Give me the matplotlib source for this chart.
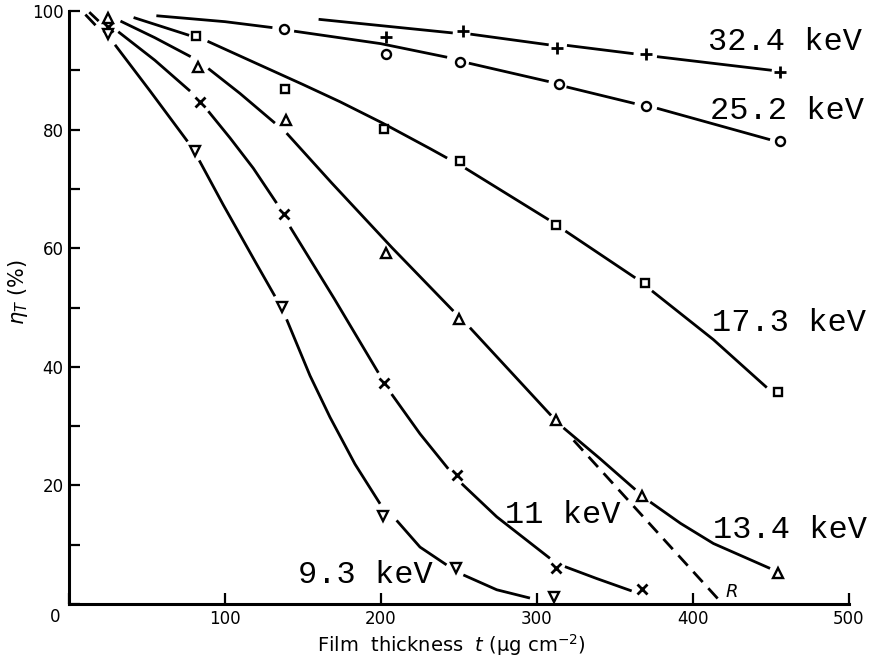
import numpy as np
import matplotlib
matplotlib.use("Agg")
import matplotlib.pyplot as plt

nan = np.nan

# ---- measured points (film thickness t, eta_T %) ----
t_324 = [203.4, 252.7, 313, 370, 456]
y_324 = [95.6, 96.6, 93.7, 92.8, 89.7]
t_252 = [137.9, 203.4, 250.5, 314, 369.6, 456]
y_252 = [96.9, 92.8, 91.4, 87.7, 84.0, 78.0]
t_173 = [81.3, 138.3, 201.9, 250.5, 312, 369, 454.7]
y_173 = [95.8, 86.8, 80.1, 74.7, 63.9, 54.1, 35.8]
t_134 = [25, 83, 138.9, 203.4, 250, 312.4, 367.5, 454.3]
y_134 = [98.8, 90.6, 81.6, 59.2, 48.0, 31.1, 18.2, 5.3]
t_110 = [25, 84, 137.8, 201.7, 248.5, 312, 367]
y_110 = [97.3, 84.7, 65.7, 37.2, 21.8, 6.0, 2.5]
t_93 = [25, 80.7, 136.4, 201, 248.2, 310.6]
y_93 = [96.2, 76.4, 50.1, 14.8, 6.0, 1.2]

# ---- fitted curves (nan = pen lifted) ----
ct_324 = [160, 246, nan, 257.3, 307.5, nan, 319.2, 361.9, nan, 376.9, 450.5]
cy_324 = [98.6, 96.3, nan, 96.1, 94.3, nan, 94.2, 92.8, nan, 92.3, 90.0]
ct_252 = [56, 100, 130.4, nan, 144.3, 199.7, 242.4, nan, 256.3, 307.5, nan,
          318.9, 362.6, nan, 376.9, 449.4]
cy_252 = [99.2, 98.2, 97.2, nan, 96.6, 94.5, 92.2, nan, 91.2, 88.1, nan,
          87.2, 84.4, nan, 83.6, 78.3]
ct_173 = [41.4, 77, nan, 88.8, 118.1, 150, 173.7, 201, 231.4, 242.4, nan,
          254, 307.5, nan, 318.2, 363, nan, 373.7, 413, 447.3]
cy_173 = [98.9, 95.9, nan, 94.9, 91.4, 87.6, 84.7, 81.1, 76.8, 75.2, nan,
          73.5, 64.8, nan, 62.9, 55.0, nan, 52.8, 44.6, 36.5]
ct_134 = [33, 55, 78, nan, 89.3, 109.6, 132, nan, 139.5, 168.4, 207, 246.4, nan,
          257, 309, nan, 317, 340, 363, nan, 372.6, 392, 413.1, 449.4]
cy_134 = [98.3, 95.5, 92.3, nan, 90.3, 86.1, 81.1, nan, 79.4, 71.0, 60.1, 49.4, nan,
          46.6, 31.8, nan, 29.7, 24.6, 19.3, nan, 17.2, 13.6, 10.2, 6.0]
ct_110 = [13, 19, nan, 31.6, 55, 77.6, nan, 89.3, 103.2, 118.1, 133.1, nan,
          141.7, 170, 198.3, nan, 206.8, 225, 243.1, nan, 251.7, 274.2, 308.3, nan,
          317.9, 338.2, 360.7]
cy_110 = [99.8, 98.3, nan, 96.5, 91.7, 86.5, nan, 83.1, 78.6, 73.5, 67.6, nan,
          63.6, 51.5, 39.0, nan, 35.4, 28.7, 22.8, nan, 20.3, 14.7, 7.7, nan,
          6.3, 4.3, 2.2]
ct_93 = [10.5, 17, nan, 29.5, 52, 76, nan, 83.5, 98.9, 109.6, 120.3, 132, nan,
         139.5, 154.5, 167.3, 183.3, 199.4, nan, 210, 225, 242, nan,
         252.8, 274.2, 295.5]
cy_93 = [99.4, 97.6, nan, 94.3, 86.5, 78.0, nan, 74.8, 67.3, 62.3, 57.3, 51.9, nan,
         48.0, 38.5, 31.5, 23.6, 16.9, nan, 14.1, 9.6, 6.6, nan,
         4.9, 2.4, 1.0]

# extrapolated range line R
r_t = [323.5, 419]
r_y = [27.6, 0.0]

energy_labels = ["32.4 keV", "25.2 keV", "17.3 keV", "13.4 keV", "11 keV", "9.3 keV"]
label_t = [409.7, 411, 412, 413, 279.8, 146.6]
label_y = [93.4, 81.8, 46.0, 11.1, 13.6, 3.5]

x_ticks = [0, 100, 200, 300, 400, 500]
x_ticklabels = ["", "100", "200", "300", "400", "500"]
y_ticks = [0, 20, 40, 60, 80, 100]
y_ticklabels = ["", "20", "40", "60", "80", "100"]
y_minor = [10, 30, 50, 70, 90]

fig = plt.figure(figsize=(8.72, 6.59), dpi=100)
ax = fig.add_axes([69 / 872, 1 - 604 / 659, 780 / 872, 593 / 659])
ax.set_xlim(0, 500)
ax.set_ylim(0, 100)

lw = 2.0
curves = [(ct_324, cy_324), (ct_252, cy_252), (ct_173, cy_173),
          (ct_134, cy_134), (ct_110, cy_110), (ct_93, cy_93)]
for ct, cy in curves:
    ax.plot(ct, cy, color="black", lw=lw, solid_capstyle="butt",
            solid_joinstyle="round", zorder=2, clip_on=False)

ax.plot(r_t, r_y, color="black", lw=lw, ls=(0, (5, 3)), zorder=2, clip_on=False)

mk = dict(color="black", mfc="white", ls="none", zorder=4, clip_on=False)
ax.plot(t_324, y_324, marker="+", ms=8, mew=2.0, **mk)
ax.plot(t_252, y_252, marker="o", ms=6.5, mew=1.7, **mk)
ax.plot(t_173, y_173, marker="s", ms=6, mew=1.7, **mk)
ax.plot(t_134, y_134, marker="^", ms=6.5, mew=1.7, **mk)
ax.plot(t_110, y_110, marker="x", ms=6.5, mew=2.0, **mk)
ax.plot(t_93, y_93, marker="v", ms=6.5, mew=1.7, **mk)

for s, tx, ty in zip(energy_labels, label_t, label_y):
    ax.text(tx, ty, s, family="Liberation Mono", fontsize=23, ha="left",
            va="baseline", color="black", clip_on=False)

ax.text(424.9, 2.1, "R", fontsize=13, style="italic", ha="center", va="center")

for side in ("top", "right"):
    ax.spines[side].set_visible(False)
for side in ("left", "bottom"):
    ax.spines[side].set_linewidth(2.2)

ax.set_xticks(x_ticks)
ax.set_xticklabels(x_ticklabels)
ax.set_yticks(y_ticks)
ax.set_yticklabels(y_ticklabels)
ax.set_yticks(y_minor, minor=True)
ax.tick_params(axis="both", which="both", direction="in", length=8, width=1.6,
               labelsize=12, pad=4)
ax.annotate("0", xy=(0, 0), xytext=(-10, -9.5), textcoords="offset points",
            ha="center", va="center", fontsize=12)

ax.set_xlabel(r"Film  thickness  $t$ (μg cm$^{-2}$)", fontsize=14)
ax.xaxis.label.set_va("center")
ax.xaxis.set_label_coords((451 - 69) / 780, (604 - 645) / 593)
ax.set_ylabel(r"$\eta_T$ (%)", fontsize=15)
ax.yaxis.label.set_va("center")
ax.yaxis.set_label_coords((18 - 69) / 780, (604 - 292) / 593)

fig.savefig("out.png", dpi=100)
